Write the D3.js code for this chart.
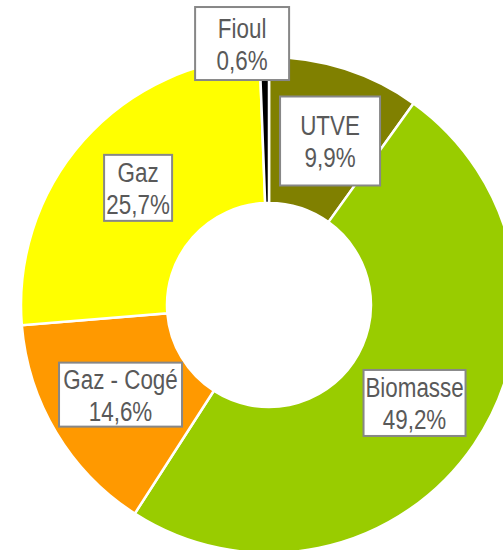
<!DOCTYPE html>
<html>
<head>
<meta charset="utf-8">
<script src="https://cdn.jsdelivr.net/npm/d3@7"></script>
<style>
  html, body { margin: 0; padding: 0; background: #ffffff; }
  svg { display: block; }
</style>
</head>
<body>
<svg id="chart" width="503" height="550"></svg>
<script>
// ---- data ----
const categories = ["UTVE", "Biomasse", "Gaz - Cogé", "Gaz", "Fioul"];
const values = [9.9, 49.2, 14.6, 25.7, 0.6];
const valueLabels = ["9,9%", "49,2%", "14,6%", "25,7%", "0,6%"];

// ---- styling / layout ----
const colors = ["#808000", "#99CC00", "#FF9900", "#FFFF00", "#000000"];
// label boxes: offset from arc centroid and box size
const labelLayout = [
  { dx: 7.5,  dy: 2.6,   w: 100, h: 89 },
  { dx: 0.8,  dy: -0.4,  w: 102, h: 66 },
  { dx: 1.6,  dy: -0.4,  w: 123, h: 64 },
  { dx: 0,    dy: -1,    w: 68,  h: 66 },
  { dx: -23.6, dy: -86.5, w: 94, h: 73 }
];

const cx = 269, cy = 305, outerR = 248, innerR = 102;
const svg = d3.select("#chart");
const g = svg.append("g").attr("transform", `translate(${cx},${cy})`);

const pie = d3.pie().sort(null).value(d => d.v).startAngle(0).endAngle(2 * Math.PI);
const arcs = pie(categories.map((c, i) => ({ c, v: values[i], i })));
const arc = d3.arc().innerRadius(innerR).outerRadius(outerR);
const midArc = d3.arc().innerRadius(innerR).outerRadius(outerR);

g.selectAll("path.slice")
  .data(arcs)
  .join("path")
  .attr("class", "slice")
  .attr("d", arc)
  .attr("fill", d => colors[d.data.i])
  .attr("stroke", "#ffffff")
  .attr("stroke-width", 2.5)
  .attr("stroke-linejoin", "miter");

const fontSize = 28, sx = 0.8;
const lbl = g.selectAll("g.lbl")
  .data(arcs)
  .join("g")
  .attr("class", "lbl")
  .attr("transform", d => {
    const [x, y] = midArc.centroid(d);
    const L = labelLayout[d.data.i];
    return `translate(${x + L.dx},${y + L.dy})`;
  });

lbl.append("rect")
  .attr("x", d => -labelLayout[d.data.i].w / 2)
  .attr("y", d => -labelLayout[d.data.i].h / 2)
  .attr("width", d => labelLayout[d.data.i].w)
  .attr("height", d => labelLayout[d.data.i].h)
  .attr("fill", "#ffffff")
  .attr("stroke", "#878787")
  .attr("stroke-width", 2);

lbl.append("text")
  .attr("transform", `translate(0,-6) scale(${sx},1)`)
  .attr("text-anchor", "middle")
  .attr("font-family", "'Liberation Sans', Arial, sans-serif")
  .attr("font-size", fontSize)
  .attr("fill", "#595959")
  .text(d => d.data.c);

lbl.append("text")
  .attr("transform", `translate(0,26) scale(${sx},1)`)
  .attr("text-anchor", "middle")
  .attr("font-family", "'Liberation Sans', Arial, sans-serif")
  .attr("font-size", fontSize)
  .attr("fill", "#595959")
  .text(d => valueLabels[d.data.i]);
</script>
</body>
</html>
